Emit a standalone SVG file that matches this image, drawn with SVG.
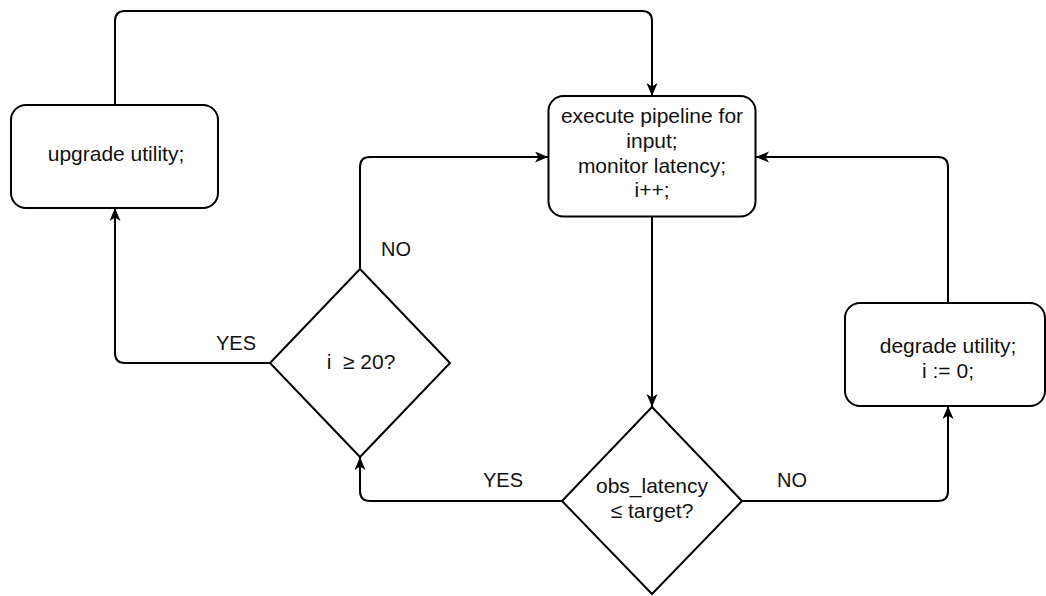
<svg xmlns="http://www.w3.org/2000/svg" width="1046" height="596" viewBox="0 0 1046 596">
  <defs>
    <marker id="arrow" markerUnits="userSpaceOnUse" markerWidth="14" markerHeight="12" refX="13" refY="5.5" orient="auto">
      <path d="M0,0 L13,5.5 L0,11 L3.5,5.5 Z" fill="#000"/>
    </marker>
    <style>
      .box { fill: #fff; stroke: #000; stroke-width: 2; }
      .conn { fill: none; stroke: #000; stroke-width: 2; marker-end: url(#arrow); }
      .t { font-family: "Liberation Sans", Arial, sans-serif; font-size: 21px; fill: #111; text-anchor: middle; }
      .lbl { font-family: "Liberation Sans", Arial, sans-serif; font-size: 20px; fill: #111; text-anchor: middle; }
    </style>
  </defs>
  <rect width="1046" height="596" fill="#fff"/>

  <g id="connectors">
    <path class="conn" d="M115,105 V21 Q115,11 125,11 H642 Q652,11 652,21 V96"/>
    <path class="conn" d="M360,269 V167 Q360,157 370,157 H548"/>
    <path class="conn" d="M270,363 H125 Q115,363 115,353 V208"/>
    <path class="conn" d="M652,217 V407"/>
    <path class="conn" d="M562,501 H370 Q360,501 360,491 V457"/>
    <path class="conn" d="M742,501 H938 Q948,501 948,491 V406"/>
    <path class="conn" d="M948,303 V167 Q948,157 938,157 H756"/>
    <text class="lbl" x="396" y="256">NO</text>
    <text class="lbl" x="236" y="350">YES</text>
    <text class="lbl" x="503" y="487">YES</text>
    <text class="lbl" x="792" y="487">NO</text>
  </g>

  <g id="upgrade">
    <rect class="box" x="11" y="105" width="207" height="103" rx="15" ry="15"/>
    <text class="t" x="116" y="161">upgrade utility;</text>
  </g>

  <g id="execute">
    <rect class="box" x="548.5" y="96" width="207" height="120.5" rx="15" ry="15"/>
    <text class="t" x="652" y="123">execute pipeline for</text>
    <text class="t" x="652" y="148">input;</text>
    <text class="t" x="652" y="173">monitor latency;</text>
    <text class="t" x="652" y="197">i++;</text>
  </g>

  <g id="check-i">
    <polygon class="box" points="360,269 450,363 360,457 270,363"/>
    <text class="t" x="361" y="369" style="white-space:pre">i  ≥ 20?</text>
  </g>

  <g id="check-latency">
    <polygon class="box" points="652,407 742,501 652,594 562,501"/>
    <text class="t" x="652" y="493">obs_latency</text>
    <text class="t" x="652" y="518">≤ target?</text>
  </g>

  <g id="degrade">
    <rect class="box" x="845" y="303" width="200" height="103" rx="15" ry="15"/>
    <text class="t" x="948" y="353">degrade utility;</text>
    <text class="t" x="948" y="378">i := 0;</text>
  </g>
</svg>
